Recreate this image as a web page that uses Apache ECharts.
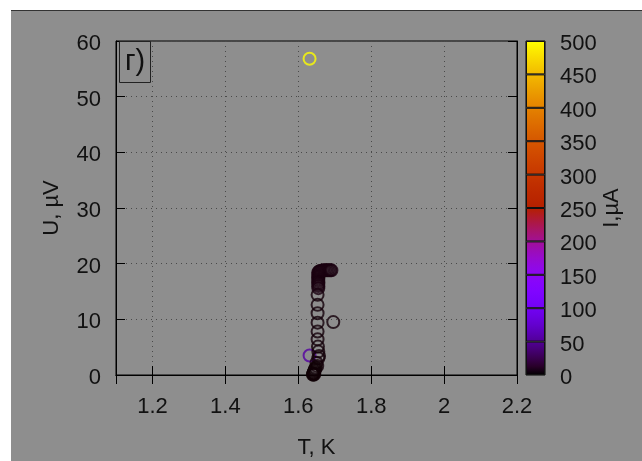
<!DOCTYPE html>
<html>
<head>
<meta charset="utf-8">
<script src="https://cdn.jsdelivr.net/npm/echarts@6/dist/echarts.min.js"></script>
<style>
  html, body { margin: 0; padding: 0; background: #fff; }
  #frame { position: absolute; left: 11px; top: 10px; width: 631px; height: 451px;
           background: #8e8e8e; border-top: 1px solid #333; box-sizing: border-box; }
  #chart { width: 631px; height: 450px; }
</style>
</head>
<body>
<div id="frame"><div id="chart"></div></div>
<script>
// T, K
var temps = [1.631, 1.631, 1.696,
    1.653, 1.653, 1.653, 1.653, 1.653, 1.653, 1.654, 1.655, 1.657, 1.655, 1.650, 1.652,
    1.655, 1.655, 1.655, 1.655, 1.655, 1.655, 1.655, 1.655, 1.655, 1.655,
    1.657, 1.660, 1.664, 1.668, 1.672, 1.676, 1.680, 1.684, 1.688, 1.691,
    1.640, 1.641, 1.642, 1.643, 1.644, 1.645, 1.646, 1.642, 1.644, 1.648];
// U, uV
var volts = [56.8, 3.5, 9.5,
    14.4, 12.6, 11.1, 9.4, 7.8, 6.4, 5.1, 4.2, 3.4, 3.0, 2.2, 1.6,
    15.6, 16.0, 16.3, 16.6, 16.9, 17.2, 17.5, 17.8, 18.1, 18.4,
    18.6, 18.7, 18.75, 18.8, 18.8, 18.8, 18.8, 18.8, 18.8, 18.8,
    0.1, 0.2, 0.3, 0.5, 0.7, 0.9, 1.1, 0.05, 0.15, 1.3];
// I, uA
var currents = [500, 55, 3,
    3, 3, 3, 3, 3, 3, 3, 3, 3, 3, 3, 3,
    5, 5, 5, 5, 5, 5, 5, 5, 5, 5,
    5, 5, 5, 5, 5, 5, 5, 5, 5, 5,
    2, 2, 2, 2, 2, 2, 2, 2, 2, 2];

var cbTicks = [0, 50, 100, 150, 200, 250, 300, 350, 400, 450, 500];
var cbMax = 500;

// gnuplot default palette (rgbformulae 7,5,15)
function palette(x) {
    x = Math.min(1, Math.max(0, x));
    var r = Math.sqrt(x);
    var g = x * x * x;
    var b = Math.max(0, Math.sin(2 * Math.PI * x));
    return 'rgb(' + Math.round(r * 255) + ',' + Math.round(g * 255) + ',' + Math.round(b * 255) + ')';
}

var font = 'Liberation Sans, Arial, sans-serif';
var txt = {color: '#111', fontSize: 22, fontFamily: font};
var dotted = {show: true, lineStyle: {color: '#4a4a4a', type: [1, 4], width: 1}};

var chart = echarts.init(document.getElementById('chart'));

var points = temps.map(function(t, i) {
    return {value: [t, volts[i]], itemStyle: {borderColor: palette(currents[i] / cbMax)}};
});

var cbSeries = [];
for (var i = 0; i < cbTicks.length - 1; i++) {
    var lo = cbTicks[i] / cbMax, hi = cbTicks[i + 1] / cbMax;
    var stops = [];
    for (var k = 0; k <= 4; k++) {
        stops.push({offset: k / 4, color: palette(lo + (hi - lo) * k / 4)});
    }
    cbSeries.push({
        type: 'bar',
        xAxisIndex: 2,
        yAxisIndex: 2,
        stack: 'cb',
        silent: true,
        barWidth: '100%',
        data: [cbTicks[i + 1] - cbTicks[i]],
        itemStyle: {
            color: {type: 'linear', x: 0, y: 1, x2: 0, y2: 0, colorStops: stops},
            borderColor: '#111',
            borderWidth: 1
        }
    });
}

// y labels sit a little below their ticks, as in gnuplot
var yLabel = Object.assign({margin: 15, verticalAlign: 'top', lineHeight: 6}, txt);

var option = {
    animation: false,
    backgroundColor: 'transparent',
    title: {
        text: 'г)',
        left: 108,
        top: 30,
        padding: [4, 6, 4, 6],
        borderColor: '#222',
        borderWidth: 1,
        textStyle: {color: '#111', fontSize: 29, fontWeight: 'normal', fontFamily: font, lineHeight: 34}
    },
    grid: [
        {left: 105, right: 125, top: 30, bottom: 86, outerBoundsMode: 'none', show: true,
         borderColor: '#000', borderWidth: 1, backgroundColor: 'transparent'},
        {left: 515, right: 97, top: 30, bottom: 86, outerBoundsMode: 'none', show: true,
         borderColor: '#000', borderWidth: 1, backgroundColor: 'transparent'}
    ],
    xAxis: [
        {
            gridIndex: 0, type: 'value', min: 1.1, max: 2.2, position: 'bottom',
            axisLine: {show: true, lineStyle: {color: '#000'}},
            axisTick: {inside: true, length: 9, lineStyle: {color: '#000'}},
            axisLabel: Object.assign({showMinLabel: false, margin: 21}, txt),
            splitLine: dotted,
            name: 'T, K', nameLocation: 'middle', nameGap: 62, nameTextStyle: txt
        },
        {
            gridIndex: 0, type: 'value', min: 1.1, max: 2.2, position: 'top',
            axisLine: {show: true, lineStyle: {color: '#000'}},
            axisTick: {inside: true, length: 9, lineStyle: {color: '#000'}},
            axisLabel: {show: false},
            splitLine: {show: false}
        },
        {gridIndex: 1, type: 'category', data: ['I'], show: false}
    ],
    yAxis: [
        {
            gridIndex: 0, type: 'value', min: 0, max: 60, interval: 10,
            axisLine: {show: true, lineStyle: {color: '#000'}},
            axisTick: {inside: true, length: 9, lineStyle: {color: '#000'}},
            axisLabel: yLabel,
            splitLine: dotted,
            name: 'U, µV', nameLocation: 'middle', nameRotate: 90, nameGap: 53, nameTextStyle: txt
        },
        {
            gridIndex: 0, type: 'value', min: 0, max: 60, interval: 10, position: 'right',
            axisLine: {show: true, lineStyle: {color: '#000'}},
            axisTick: {inside: true, length: 9, lineStyle: {color: '#000'}},
            axisLabel: {show: false},
            splitLine: {show: false}
        },
        {
            gridIndex: 1, type: 'value', min: 0, max: 500, interval: 50, position: 'right',
            axisLine: {show: false},
            axisTick: {show: false},
            axisLabel: yLabel,
            splitLine: {show: false},
            name: 'I,µA', nameLocation: 'middle', nameRotate: 90, nameGap: 54, nameTextStyle: txt
        }
    ],
    series: [{
        type: 'scatter',
        symbol: 'circle',
        symbolSize: 12,
        itemStyle: {color: 'rgba(0,0,0,0)', borderWidth: 2},
        data: points
    }].concat(cbSeries)
};

chart.setOption(option);
</script>
</body>
</html>
